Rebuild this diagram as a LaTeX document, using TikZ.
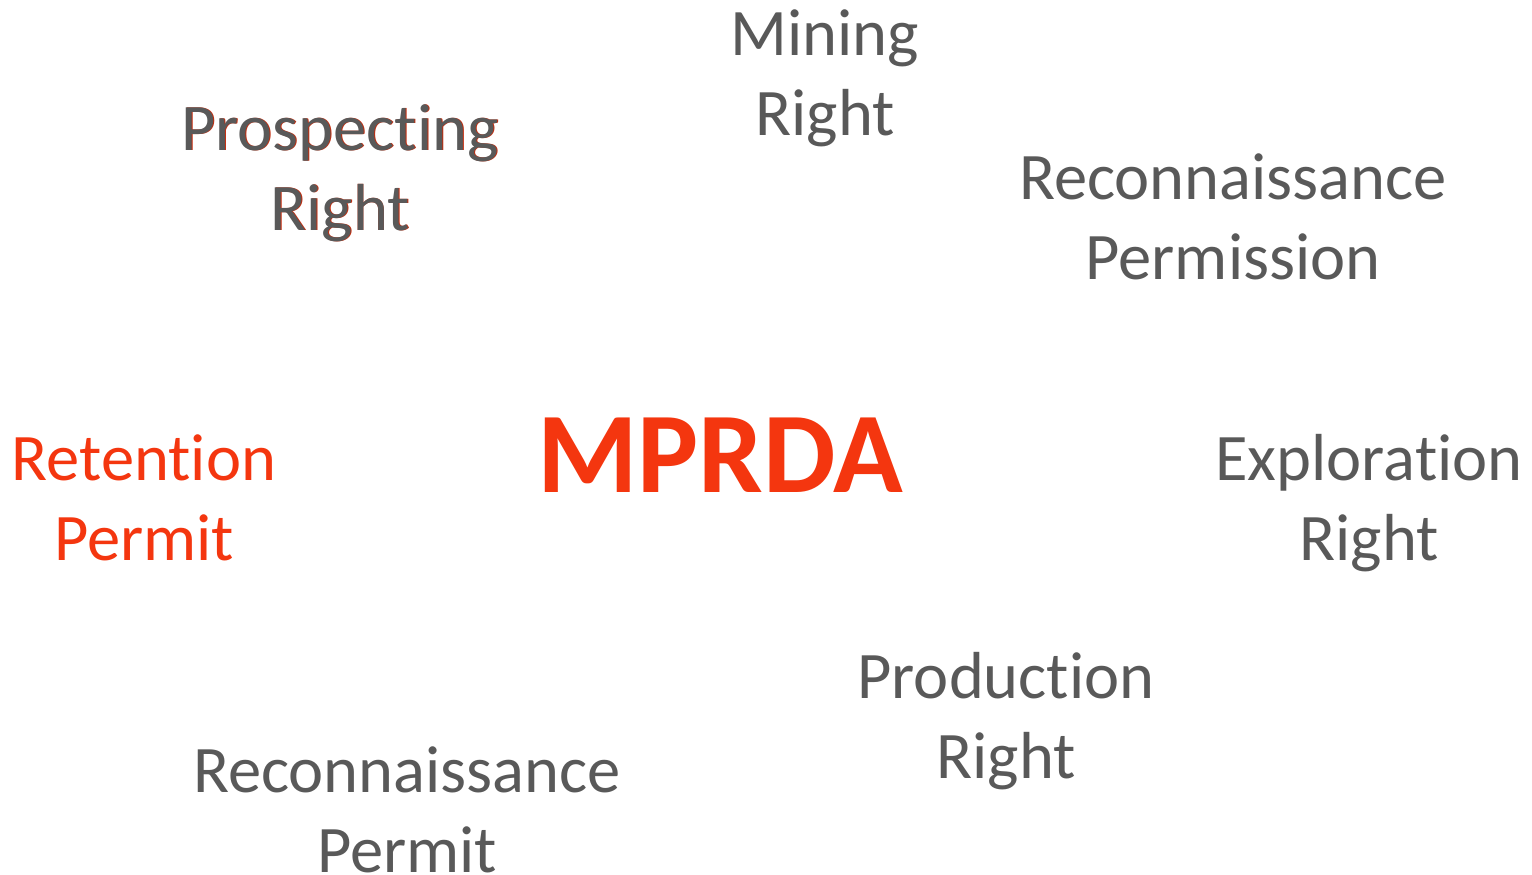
\documentclass[tikz,border=0pt]{standalone}
\usepackage{fontspec}
\setmainfont{Carlito}[Ligatures={NoCommon,NoRare,NoContextual}]
\definecolor{txtgray}{HTML}{595959}
\definecolor{mred}{HTML}{F4360F}
\begin{document}
\begin{tikzpicture}[x=1pt,y=-1pt,
  lbl/.style={inner sep=0pt,align=center,text=txtgray,font=\fontsize{66.5}{80}\selectfont,anchor=base},
  redlbl/.style={lbl,text=mred},
  big/.style={inner sep=0pt,text=mred,font=\fontsize{115}{138}\selectfont\bfseries,anchor=base}]
\useasboundingbox[fill=white] (0,0) rectangle (1532,875);
\node[big] (mprda) at (720,492) {MPRDA};
\node[lbl] (mining) at (825,135) {Mining\\Right};
\node[lbl,text=mred!80!black] (prospshadow) at (340.8,230.8) {Prospecting\\Right};
\node[lbl] (prosp) at (340,230) {Prospecting\\Right};
\node[lbl] (rperm) at (1233,279) {Reconnaissance\\Permission};
\node[redlbl] (reten) at (144,560) {Retention\\Permit};
\node[lbl] (explor) at (1369,560) {Exploration\\Right};
\node[lbl] (prod) at (1006,778) {Production\\Right};
\node[lbl] (rpermit) at (407,872) {Reconnaissance\\Permit};
\end{tikzpicture}
\end{document}
